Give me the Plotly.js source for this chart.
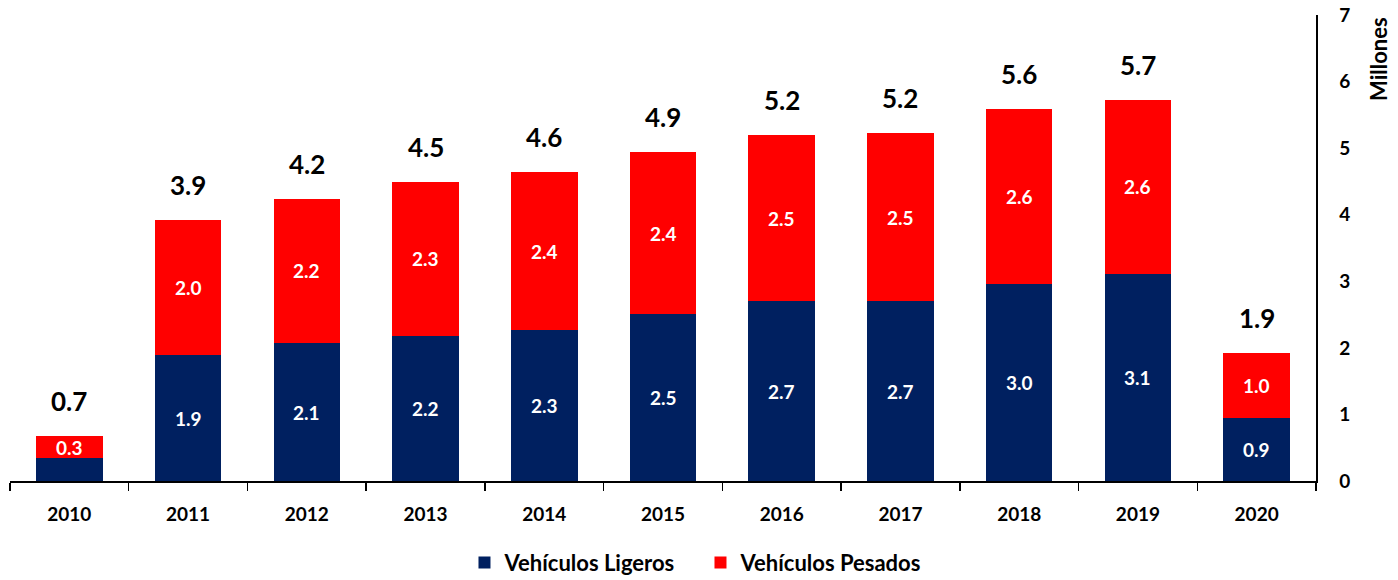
<!DOCTYPE html>
<html><head><meta charset="utf-8">
<script src="https://cdn.plot.ly/plotly-3.0.1.min.js"></script>
<style>html,body{margin:0;padding:0;background:#fff}#chart{width:1398px;height:580px}</style>
</head><body><div id="chart"></div>
<script>
const years = ['2010','2011','2012','2013','2014','2015','2016','2017','2018','2019','2020'];
const ligeros = [0.34, 1.89, 2.07, 2.18, 2.27, 2.51, 2.70, 2.70, 2.96, 3.11, 0.94];
const pesados = [0.34, 2.03, 2.17, 2.31, 2.37, 2.43, 2.49, 2.53, 2.63, 2.62, 0.98];
const seriesNames = ['Vehículos Ligeros', 'Vehículos Pesados'];
const colors = ['#002060', '#FF0000'];
const FONT = 'Lato, "Open Sans", sans-serif';

const totals = ligeros.map((v, i) => v + pesados[i]);
const fmt = v => v.toFixed(1);

const traces = [
  {type:'bar', x: years, y: ligeros, name: seriesNames[0], marker:{color: colors[0]}, width: 0.56, hoverinfo:'none'},
  {type:'bar', x: years, y: pesados, name: seriesNames[1], marker:{color: colors[1]}, width: 0.56, hoverinfo:'none'}
];

const annotations = [];
years.forEach((yr, i) => {
  if (ligeros[i] >= 0.5) {
    annotations.push({x: i, y: ligeros[i] / 2, text: fmt(ligeros[i]), showarrow:false,
      font:{family:FONT, size:19, color:'#fff', weight:'bold'}, yanchor:'middle'});
  }
  annotations.push({x: i, y: ligeros[i] + pesados[i] / 2, text: fmt(pesados[i]), showarrow:false,
    font:{family:FONT, size:19, color:'#fff', weight:'bold'}, yanchor:'middle'});
  annotations.push({x: i, y: totals[i], text: fmt(totals[i]), showarrow:false,
    font:{family:FONT, size:26, color:'#000', weight:'bold'}, yanchor:'bottom', yshift:17});
});
annotations.push({xref:'paper', yref:'paper', x:1.0, xshift:62, y:1, text:'Millones', textangle:-90,
  showarrow:false, xanchor:'center', yanchor:'top', font:{family:FONT, size:22, color:'#000', weight:'bold'}});

const layout = {
  width:1398, height:580,
  margin:{l:10, r:82, t:15, b:99, autoexpand:false},
  barmode:'stack',
  paper_bgcolor:'#fff', plot_bgcolor:'#fff',
  font:{family:FONT, color:'#000'},
  showlegend:true,
  legend:{orientation:'h', x:0.348, xanchor:'left', y:-0.13, yanchor:'top', entrywidth:191, entrywidthmode:'pixels',
    font:{family:FONT, size:22, color:'#000', weight:'bold'}, traceorder:'normal'},
  xaxis:{type:'category', range:[-0.5, 10.5], autorange:false, showgrid:false, zeroline:false, showline:true, linecolor:'#000', linewidth:1.5,
    ticks:'outside', tickson:'boundaries', ticklen:8, tickcolor:'#000', tickwidth:1.5,
    tickfont:{family:FONT, size:19, color:'#000', weight:'bold'}, ticklabelstandoff:16, fixedrange:true},
  yaxis:{side:'right', range:[0,7], autorange:false, dtick:1, showgrid:false, zeroline:false, showline:true, linecolor:'#000', linewidth:1.5,
    ticks:'outside', ticklen:18, tickcolor:'rgba(0,0,0,0)', tickfont:{family:FONT, size:19, color:'#000', weight:'bold'}, fixedrange:true},
  annotations: annotations
};
Plotly.newPlot('chart', traces, layout, {displayModeBar:false, staticPlot:true});
</script></body></html>
